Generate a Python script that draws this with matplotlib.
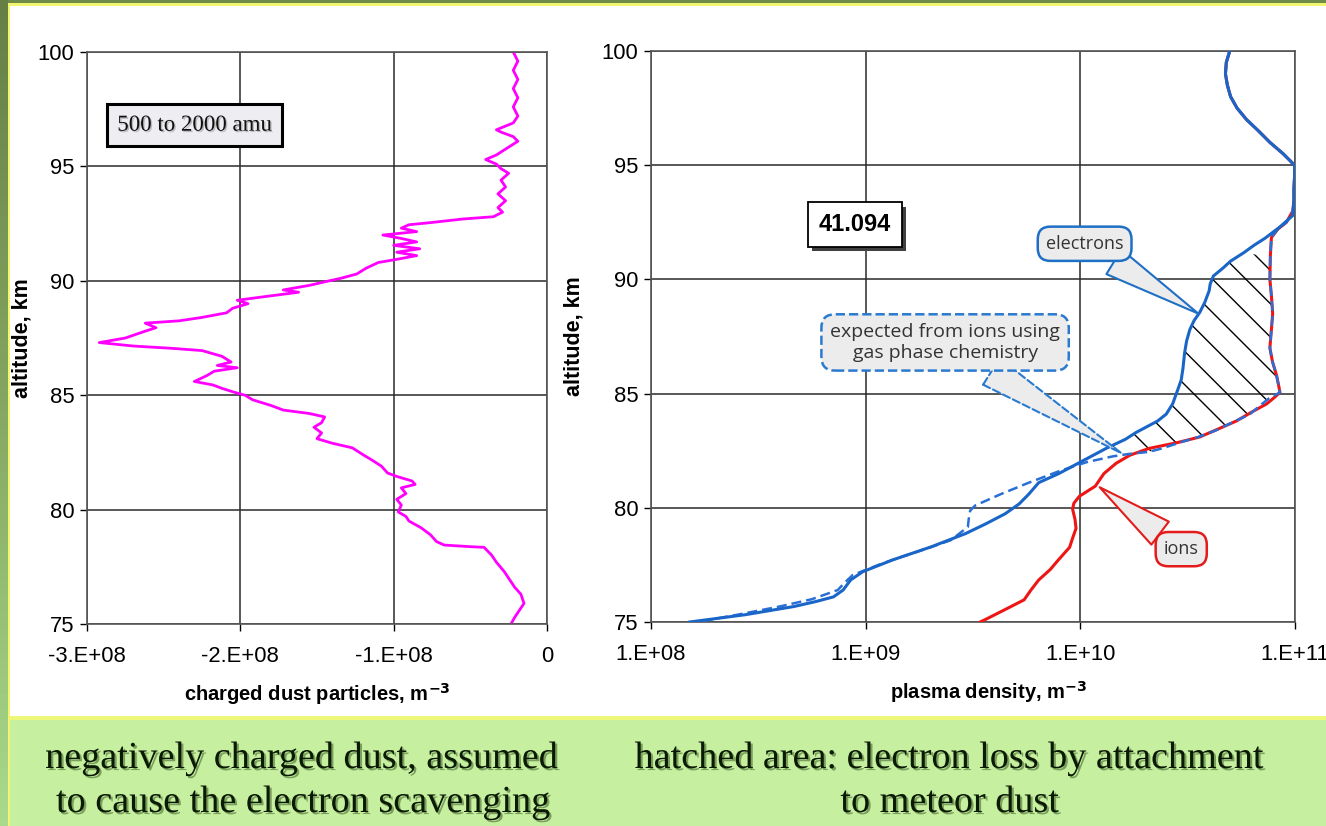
import numpy as np
import matplotlib
matplotlib.use('Agg')
import matplotlib.pyplot as plt
import matplotlib.patches as patches
import matplotlib.patheffects as pe
from matplotlib.colors import LinearSegmentedColormap

plt.rcParams['font.family'] = ['Liberation Sans', 'DejaVu Sans']

# ---- left panel: charged dust (units of 1e8 m^-3) vs altitude (km)
dust_alt = [100.0, 99.6, 99.2, 98.8, 98.4, 98.0, 97.6, 97.2, 96.9, 96.6, 96.5, 96.3, 96.1,
            95.8, 95.5, 95.3, 95.1, 94.9, 94.7, 94.4, 94.1, 93.8, 93.5, 93.2, 93.0, 92.8,
            92.7, 92.55, 92.45, 92.3, 92.15, 92.0, 91.85, 91.7, 91.55, 91.4, 91.25, 91.1,
            90.95, 90.8, 90.55, 90.3, 90.1, 90.0, 89.8, 89.6, 89.5, 89.3, 89.15, 89.0, 88.8,
            88.6, 88.4, 88.25, 88.15, 87.95, 87.8, 87.5, 87.3, 87.15, 87.05, 86.95, 86.7,
            86.45, 86.3, 86.2, 86.05, 85.85, 85.6, 85.45, 85.3, 85.15, 85.0, 84.8, 84.55,
            84.35, 84.2, 84.05, 83.8, 83.6, 83.35, 83.1, 82.9, 82.7, 82.4, 82.2, 81.9, 81.6,
            81.45, 81.25, 81.1, 80.95, 80.7, 80.45, 80.2, 79.9, 79.7, 79.5, 79.2, 78.9, 78.6,
            78.45, 78.38, 78.35, 78.0, 77.7, 77.3, 77.0, 76.6, 76.3, 75.9, 75.6, 75.3, 75.0]
dust_val = [-0.22, -0.19, -0.22, -0.19, -0.22, -0.19, -0.22, -0.19, -0.22, -0.33, -0.30, -0.22, -0.19,
            -0.26, -0.33, -0.40, -0.33, -0.30, -0.25, -0.30, -0.27, -0.32, -0.27, -0.32, -0.29, -0.35,
            -0.55, -0.75, -0.90, -0.95, -0.85, -1.07, -0.95, -0.85, -1.00, -0.83, -0.98, -0.85,
            -0.97, -1.10, -1.18, -1.24, -1.35, -1.42, -1.55, -1.72, -1.62, -1.85, -2.02, -1.95, -2.05,
            -2.09, -2.25, -2.40, -2.62, -2.55, -2.62, -2.75, -2.92, -2.70, -2.45, -2.25, -2.12,
            -2.06, -2.15, -2.02, -2.17, -2.22, -2.30, -2.18, -2.12, -2.05, -1.97, -1.92, -1.80,
            -1.72, -1.55, -1.45, -1.47, -1.52, -1.47, -1.50, -1.40, -1.27, -1.20, -1.15, -1.08, -1.04,
            -0.98, -0.88, -0.86, -0.95, -0.92, -0.98, -0.95, -0.97, -0.92, -0.90, -0.82, -0.76, -0.72,
            -0.67, -0.50, -0.41, -0.36, -0.33, -0.28, -0.25, -0.21, -0.17, -0.15, -0.18, -0.21, -0.235]
dust_ticks = [-3e8, -2e8, -1e8, 0]
dust_labels = ['-3.E+08', '-2.E+08', '-1.E+08', '0']

# ---- right panel: log10 of plasma density (m^-3) vs altitude (km)
el_alt = [100.0, 99.5, 99.0, 98.5, 98.0, 97.5, 97.0, 96.5, 96.0, 95.5, 95.0, 94.5, 94.0, 93.5,
          92.8, 92.3, 91.8, 91.5, 91.16, 90.8, 90.5, 90.15, 89.8, 89.5, 89.0, 88.55, 88.2, 87.8,
          87.3, 86.8, 86.1, 85.6, 85.2, 84.55, 84.1, 83.8, 83.6, 83.3, 83.0, 82.6, 82.0, 81.5,
          81.1, 80.6, 80.17, 79.74, 79.3, 78.87, 78.29, 77.71, 77.2, 76.84, 76.4, 76.1, 75.9,
          75.68, 75.32, 75.0]
el_lg = [10.696, 10.68, 10.676, 10.685, 10.70, 10.73, 10.774, 10.83, 10.883, 10.945, 10.998, 10.998,
         10.995, 10.995, 10.99, 10.93, 10.86, 10.81, 10.76, 10.70, 10.665, 10.62, 10.605, 10.60,
         10.58, 10.556, 10.53, 10.51, 10.495, 10.486, 10.478, 10.47, 10.455, 10.43, 10.40, 10.36,
         10.32, 10.26, 10.21, 10.12, 10.0, 9.90, 9.806, 9.76, 9.715, 9.65, 9.56, 9.465, 9.305,
         9.123, 8.986, 8.93, 8.895, 8.85, 8.77, 8.667, 8.44, 8.18]

ion_alt = [100.0, 99.5, 99.0, 98.5, 98.0, 97.5, 97.0, 96.5, 96.0, 95.5, 95.0, 94.5, 94.0, 93.5,
           93.0, 92.5, 92.2, 91.83, 91.0, 90.0, 89.3, 88.5, 87.8, 87.0, 86.4, 85.8, 85.3, 85.05,
           84.8, 84.55, 84.2, 83.8, 83.4, 83.1, 82.85, 82.6, 82.3, 81.95, 81.5, 80.95, 80.5, 80.2,
           79.94, 79.5, 79.1, 78.7, 78.27, 77.71, 77.3, 76.84, 76.4, 75.97, 75.5, 75.1, 75.0]
ion_lg = [10.696, 10.68, 10.676, 10.685, 10.70, 10.73, 10.774, 10.83, 10.883, 10.945, 10.998, 10.998,
          10.995, 10.995, 10.99, 10.96, 10.92, 10.89, 10.885, 10.883, 10.89, 10.896, 10.89, 10.883,
          10.895, 10.914, 10.925, 10.93, 10.90, 10.868, 10.80, 10.727, 10.63, 10.556, 10.45, 10.32,
          10.23, 10.167, 10.11, 10.07, 9.995, 9.97, 9.964, 9.975, 9.98, 9.965, 9.95, 9.897, 9.86,
          9.806, 9.77, 9.738, 9.64, 9.556, 9.533]

exp_alt = [100.0, 99.5, 99.0, 98.5, 98.0, 97.5, 97.0, 96.5, 96.0, 95.5, 95.0, 94.5, 94.0, 93.5,
           93.0, 92.5, 92.2, 91.83, 91.0, 90.0, 89.3, 88.5, 87.8, 87.0, 86.4, 85.8, 85.3, 85.05,
           84.8, 84.5, 84.1, 83.7, 83.4, 83.1, 82.9, 82.6, 82.45, 82.35, 82.25, 82.0, 81.6, 81.1,
           80.6, 80.1, 79.88, 79.5, 79.16, 78.9, 78.58, 78.2, 77.86, 77.5, 77.06, 76.7, 76.4, 76.0,
           75.68, 75.35, 75.03]
exp_lg = [10.696, 10.68, 10.676, 10.685, 10.70, 10.73, 10.774, 10.83, 10.883, 10.945, 10.998, 10.998,
          10.995, 10.995, 10.99, 10.96, 10.92, 10.89, 10.885, 10.883, 10.89, 10.896, 10.89, 10.883,
          10.895, 10.914, 10.925, 10.93, 10.88, 10.84, 10.79, 10.70, 10.634, 10.55, 10.478, 10.38,
          10.32, 10.22, 10.15, 10.03, 9.90, 9.76, 9.63, 9.51, 9.487, 9.48, 9.476, 9.44, 9.396, 9.28,
          9.17, 9.06, 8.94, 8.90, 8.87, 8.75, 8.60, 8.42, 8.235]
plasma_ticks = [1e8, 1e9, 1e10, 1e11]
plasma_labels = ['1.E+08', '1.E+09', '1.E+10', '1.E+11']
alt_ticks = [75, 80, 85, 90, 95, 100]

W, H = 1326, 826
fig = plt.figure(figsize=(W / 100, H / 100), dpi=100)
fig.patch.set_facecolor('white')


def px_rect(x0, y0, x1, y1, color):
    # rectangle given in pixel coords from the top-left corner
    fig.add_artist(patches.Rectangle((x0 / W, 1 - y1 / H), (x1 - x0) / W, (y1 - y0) / H,
                                     transform=fig.transFigure, fc=color, ec='none', zorder=0))


# slide frame
px_rect(0, 0, W, 3, '#6f8b4a')
px_rect(8, 3, W, 6, '#f4f56e')
px_rect(0, 716, W, 720, '#eef77a')
px_rect(0, 720, W, H, '#c6f0a0')
strip = fig.add_axes([0, 0, 8 / W, 1])
grad = LinearSegmentedColormap.from_list('strip', ['#667f45', '#86a862', '#a9da8b'])
strip.imshow(np.linspace(0, 1, 100).reshape(-1, 1), aspect='auto', cmap=grad)
strip.axis('off')
px_rect(8, 3, 10, H, '#f4f56e')

tick_font = 15.8


def style_axes(ax):
    ax.set_ylim(75, 100)
    ax.set_yticks(alt_ticks)
    ax.grid(True, color='#2a2a2a', lw=1.1)
    ax.set_axisbelow(True)
    for s in ax.spines.values():
        s.set_color('#555555')
        s.set_linewidth(1.2)
    ax.tick_params(axis='y', direction='out', length=5, width=1, pad=4, labelsize=tick_font)
    ax.tick_params(axis='x', direction='out', length=5, width=1, pad=11, labelsize=tick_font)
    ax.set_ylabel('altitude, km', fontsize=15.5, fontweight='bold')


# ---- left panel
ax1 = fig.add_axes([87 / W, 1 - 624 / H, 460 / W, 572 / H])
ax1.plot(np.array(dust_val) * 1e8, dust_alt, color='#ff00ff', lw=2.0)
ax1.set_xlim(-3e8, 0)
style_axes(ax1)
ax1.set_xticks(dust_ticks)
ax1.set_xticklabels(dust_labels)
ax1.set_xlabel('charged dust particles, m$^{\\mathbf{-3}}$', fontsize=14.5, fontweight='bold')
ax1.yaxis.set_label_coords(-0.118, 0.5)
ax1.xaxis.set_label_coords(0.5, -0.10)
ax1.text(-2.3e8, 96.8, '500 to 2000 amu', family=['Liberation Serif', 'DejaVu Serif'],
         fontsize=16.5, ha='center', va='center', color='#111111',
         bbox=dict(boxstyle='square,pad=0.45', fc='#ededf2', ec='black', lw=2.2),
         path_effects=[pe.withSimplePatchShadow(offset=(1, -1), shadow_rgbFace='#888888', alpha=0.5)])

# ---- right panel
ax2 = fig.add_axes([651 / W, 1 - 622 / H, 644 / W, 571 / H])
ax2.set_xscale('log')
ax2.set_xlim(1e8, 1e11)
style_axes(ax2)
ax2.set_xticks(plasma_ticks)
ax2.set_xticklabels(plasma_labels)
ax2.minorticks_off()
ax2.set_xlabel('plasma density, m$^{\\mathbf{-3}}$', fontsize=14.5, fontweight='bold')
ax2.yaxis.set_label_coords(-0.104, 0.5)
ax2.xaxis.set_label_coords(0.525, -0.10)

el_x = 10 ** np.array(el_lg)
ion_x = 10 ** np.array(ion_lg)
exp_x = 10 ** np.array(exp_lg)

# hatched area between electrons and the gas-phase expectation
el_a = np.array(el_alt)
ex_a = np.array(exp_alt)
m1 = (el_a >= 82.4) & (el_a <= 91.2)
m2 = (ex_a >= 82.4) & (ex_a <= 91.2)
verts = np.vstack([np.column_stack([el_x[m1], el_a[m1]]),
                   np.column_stack([exp_x[m2], ex_a[m2]])[::-1]])
ax2.add_patch(patches.Polygon(verts, closed=True, fill=False, hatch='\\', edgecolor='black',
                              lw=0, zorder=2))

ax2.plot(ion_x, ion_alt, color='#ee1515', lw=2.2, zorder=3)
ax2.plot(exp_x, exp_alt, color='#2a6fd6', lw=1.8, ls=(0, (4, 2)), zorder=4)
ax2.plot(el_x, el_alt, color='#1a66c8', lw=2.2, zorder=5)

# 41.094 box with drop shadow on the box only
val_box = ax2.text(10 ** 8.95, 92.4, '41.094', fontsize=17, fontweight='bold', ha='center',
                   va='center', color='black', zorder=7,
                   bbox=dict(boxstyle='square,pad=0.45', fc='white', ec='black', lw=1.3))
val_box.get_bbox_patch().set_path_effects(
    [pe.SimplePatchShadow(offset=(3, -3), shadow_rgbFace='#404040', alpha=1.0), pe.Normal()])

call_font = ['Liberation Sans Narrow', 'Open Sans', 'DejaVu Sans']


def callout(text, xy, xytext, color, size=13, ls='-'):
    ax2.annotate(text, xy=xy, xytext=xytext, ha='center', va='center', fontsize=size,
                 family=call_font, color='#333333', zorder=8,
                 bbox=dict(boxstyle='round,pad=0.45,rounding_size=0.7', fc='#ececec', ec=color,
                           lw=1.8, ls=ls),
                 arrowprops=dict(arrowstyle='wedge,tail_width=1.6,shrink_factor=0.5',
                                 fc='#ececec', ec=color, lw=1.5, ls=ls, shrinkA=0, shrinkB=0))


callout('electrons', (10 ** 10.55, 88.5), (10 ** 10.02, 91.56), '#1f6fc5')
callout('expected from ions using\ngas phase chemistry', (10 ** 10.19, 82.4),
        (10 ** 9.37, 87.24), '#2a7ad0', size=14, ls='--')
callout('ions', (10 ** 10.09, 80.9), (10 ** 10.47, 78.19), '#e41b1b')

# ---- captions
cap = dict(family=['Liberation Serif', 'DejaVu Serif'], fontsize=27.5, color='#0b1a04',
           ha='center', va='baseline',
           path_effects=[pe.withSimplePatchShadow(offset=(1.5, -1.5), shadow_rgbFace='#4a6a30',
                                                  alpha=0.6)])
fig.text(302 / W, 1 - 768 / H, 'negatively charged dust, assumed', **cap)
fig.text(304 / W, 1 - 812 / H, 'to cause the electron scavenging', **cap)
fig.text(950 / W, 1 - 768 / H, 'hatched area: electron loss by attachment', **cap)
fig.text(950 / W, 1 - 812 / H, 'to meteor dust', **cap)

fig.savefig('out.png', dpi=100, facecolor=fig.get_facecolor())
